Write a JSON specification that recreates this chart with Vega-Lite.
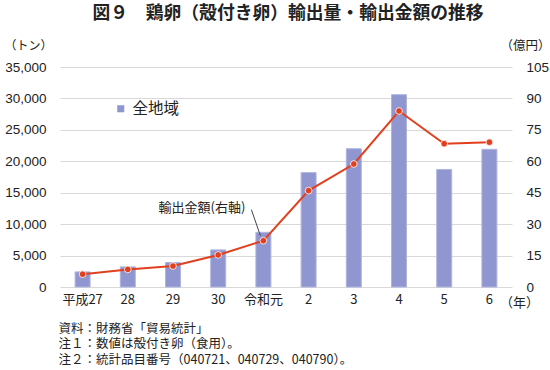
{
  "$schema": "https://vega.github.io/schema/vega-lite/v6.json",
  "width": 452,
  "height": 220,
  "autosize": "none",
  "padding": {"left": 60, "top": 67, "right": 38, "bottom": 83},
  "background": "white",
  "config": {"view": {"stroke": null}, "font": "Noto Sans CJK JP"},
  "title": {
    "text": "図９　鶏卵（殻付き卵）輸出量・輸出金額の推移",
    "fontSize": 17.8,
    "fontWeight": "bold",
    "font": "Noto Sans CJK JP",
    "anchor": "middle",
    "frame": "group",
    "dx": 2,
    "offset": 16,
    "color": "#222222"
  },
  "data": {
    "values": [
      {"year": "平成27", "volume": 2400, "amount": 6.1},
      {"year": "28", "volume": 3200, "amount": 8.4},
      {"year": "29", "volume": 3900, "amount": 10.0},
      {"year": "30", "volume": 5900, "amount": 15.3},
      {"year": "令和元", "volume": 8700, "amount": 22.1},
      {"year": "2", "volume": 18200, "amount": 46.0},
      {"year": "3", "volume": 22000, "amount": 58.7},
      {"year": "4", "volume": 30600, "amount": 84.0},
      {"year": "5", "volume": 18700, "amount": 68.4},
      {"year": "6", "volume": 21900, "amount": 69.1}
    ]
  },
  "encoding": {
    "x": {
      "field": "year",
      "type": "nominal",
      "sort": null,
      "scale": {"paddingInner": 0, "paddingOuter": 0},
      "axis": {
        "labelAngle": 0,
        "labelFontSize": 13,
        "labelFont": "Noto Sans CJK JP",
        "labelColor": "#222222",
        "labelPadding": 6,
        "domain": false,
        "ticks": false,
        "grid": false,
        "title": [
          "資料：財務省「貿易統計」",
          "注１：数値は殻付き卵（食用）。",
          "注２：統計品目番号（040721、040729、040790）。"
        ],
        "titleFont": "Noto Sans CJK JP",
        "titleFontSize": 12.5,
        "titleFontWeight": "normal",
        "titleColor": "#222222",
        "titleAnchor": "start",
        "titleAlign": "left",
        "titleBaseline": "top",
        "titleX": -2,
        "titleY": 35,
        "titleLineHeight": 15.5
      }
    }
  },
  "layer": [
    {
      "layer": [
        {
          "mark": {"type": "bar", "width": 15, "stroke": "#b0b5e0", "strokeWidth": 1},
          "encoding": {
            "y": {
              "field": "volume",
              "type": "quantitative",
              "scale": {"domain": [0, 35000]},
              "axis": {
                "values": [0, 5000, 10000, 15000, 20000, 25000, 30000, 35000],
                "format": ",d",
                "labelOverlap": false,
                "labelFont": "Liberation Sans",
                "labelFontSize": 13.5,
                "labelColor": "#222222",
                "labelPadding": 14,
                "domain": false,
                "ticks": false,
                "grid": true,
                "gridColor": "#d9d9d9",
                "title": "（トン）",
                "titleFont": "Noto Sans CJK JP",
                "titleFontSize": 12,
                "titleFontWeight": "normal",
                "titleColor": "#222222",
                "titleAngle": 0,
                "titleAlign": "left",
                "titleBaseline": "middle",
                "titleX": -56,
                "titleY": -22
              }
            },
            "color": {
              "datum": "全地域",
              "scale": {"range": ["#8f96d0"]},
              "legend": {
                "orient": "none",
                "legendX": 53,
                "legendY": 34,
                "title": null,
                "symbolType": "square",
                "symbolSize": 50,
                "symbolStrokeWidth": 0,
                "labelFont": "Noto Sans CJK JP",
                "labelFontSize": 15.5,
                "labelColor": "#222222",
                "labelOffset": 4
              }
            }
          }
        },
        {
          "transform": [{"filter": "datum.year == '6'"}],
          "mark": {"type": "text", "dx": 30, "dy": 16, "fontSize": 13, "font": "Noto Sans CJK JP", "color": "#222222"},
          "encoding": {
            "y": {
              "datum": 0,
              "type": "quantitative",
              "scale": {"domain": [0, 35000]},
              "axis": {
                "values": [0, 5000, 10000, 15000, 20000, 25000, 30000, 35000],
                "format": ",d",
                "labelOverlap": false,
                "labelFont": "Liberation Sans",
                "labelFontSize": 13.5,
                "labelColor": "#222222",
                "labelPadding": 14,
                "domain": false,
                "ticks": false,
                "grid": true,
                "gridColor": "#d9d9d9",
                "title": "（トン）",
                "titleFont": "Noto Sans CJK JP",
                "titleFontSize": 12,
                "titleFontWeight": "normal",
                "titleColor": "#222222",
                "titleAngle": 0,
                "titleAlign": "left",
                "titleBaseline": "middle",
                "titleX": -56,
                "titleY": -22
              }
            },
            "text": {"value": "（年）"}
          }
        }
      ]
    },
    {
      "encoding": {
        "y": {
          "field": "amount",
          "type": "quantitative",
          "scale": {"domain": [0, 105]},
          "axis": {
            "orient": "right",
            "values": [0, 15, 30, 45, 60, 75, 90, 105],
            "labelOverlap": false,
            "labelFont": "Liberation Sans",
            "labelFontSize": 13.5,
            "labelColor": "#222222",
            "labelPadding": 14,
            "domain": false,
            "ticks": false,
            "grid": false,
            "title": "（億円）",
            "titleFont": "Noto Sans CJK JP",
            "titleFontSize": 12.5,
            "titleFontWeight": "normal",
            "titleColor": "#222222",
            "titleAngle": 0,
            "titleAlign": "right",
            "titleBaseline": "middle",
            "titleX": 38,
            "titleY": -22
          }
        }
      },
      "layer": [
        {
          "mark": {"type": "line", "color": "#e0401e", "strokeWidth": 2}
        },
        {
          "mark": {"type": "point", "filled": true, "size": 45, "color": "#e0401e", "stroke": "#ffffff", "strokeWidth": 0.8, "opacity": 1}
        },
        {
          "transform": [{"filter": "datum.year == '令和元'"}],
          "mark": {"type": "rule", "color": "#444444", "strokeWidth": 1, "xOffset": -3, "yOffset": -5, "x2Offset": -12, "y2Offset": -31},
          "encoding": {
            "x2": {"field": "year"},
            "y2": {"field": "amount"}
          }
        },
        {
          "transform": [{"filter": "datum.year == '令和元'"}],
          "mark": {"type": "text", "align": "right", "baseline": "middle", "dx": -18, "dy": -33, "fontSize": 13, "font": "Noto Sans CJK JP", "color": "#222222"},
          "encoding": {
            "text": {"value": "輸出金額(右軸)"}
          }
        }
      ]
    }
  ],
  "resolve": {"scale": {"y": "independent", "color": "independent"}}
}
